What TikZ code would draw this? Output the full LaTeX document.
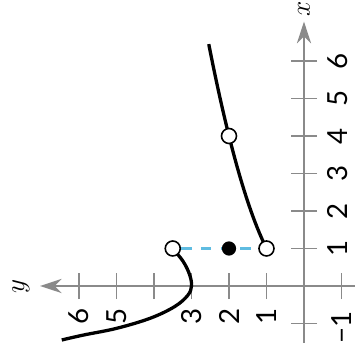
\documentclass[tikz,border=0pt]{standalone}
\usepackage{fontspec}
\setsansfont{Lato}
\usepackage{xcolor}
\usetikzlibrary{arrows.meta}
\definecolor{axisgray}{RGB}{138,138,138}
\definecolor{gapblue}{RGB}{95,188,225}

\begin{document}
\begin{tikzpicture}[rotate=90, transform shape,
    axis/.style={draw=axisgray, line width=1.3pt, -{Stealth[length=5.8mm, width=3.8mm, inset=1.9mm, fill=axisgray]}},
    tickmark/.style={draw=axisgray, line width=1.3pt},
    curve/.style={draw=black, line width=2.5pt},
    opendot/.style={circle, draw=black, line width=1.2pt, fill=white, minimum size=4mm, inner sep=0pt},
    filldot/.style={circle, fill=black, minimum size=3.8mm, inner sep=0pt},
    ticklabel/.style={font=\sffamily\fontsize{21}{24}\selectfont, inner sep=0pt},
    axislabel/.style={font=\fontsize{22}{25}\selectfont, inner sep=0pt},
    gapline/.style={draw=gapblue, line width=1.8pt, dash pattern=on 8pt off 7pt},
]

\useasboundingbox (-1.787,-1.387) rectangle (7.627,8.107);

% Axes
\coordinate (xstart) at (-1.52,0);
\coordinate (xend) at (7.05,0);
\coordinate (ystart) at (0,-1.36);
\coordinate (yend) at (0,7.04);
\draw[axis] (xstart) -- (xend);
\draw[axis] (ystart) -- (yend);
\node[axislabel] (xname) at (7.39,0) {$x$};
\node[axislabel] (yname) at (0,7.55) {$y$};

% Ticks and labels
\foreach \i in {-1,1,2,...,6} {
  \draw[tickmark] (\i,-0.35) -- (\i,0.35);
  \draw[tickmark] (-0.35,\i) -- (0.35,\i);
}
\foreach \i in {1,...,6}
  \node[ticklabel, anchor=north] (xt\i) at (\i,-0.62) {\i};
\foreach \i in {1,2,3,5,6}
  \node[ticklabel, anchor=east] (yt\i) at (-0.58,\i) {\i};
\node[ticklabel] (minusone) at (-1.1,-1.0) {−1};

% Upper branch
\draw[curve] plot[domain=1:6.45, samples=40] (\x,{sqrt(\x)});

% Lower branch
\draw[curve] plot[smooth, tension=0.6] coordinates {(1,3.5) (0.65,3.22) (0.3,3.05) (0,3.0)
  (-0.25,3.1) (-0.55,3.45) (-0.86,4.1) (-1.13,5.0) (-1.31,5.89) (-1.44,6.46)};

% Points
\node[opendot] (low) at (1,1) {};
\node[opendot] (mid) at (4,2) {};
\node[opendot] (high) at (1,3.5) {};
\draw[gapline] (high) -- (low);
\node[filldot] (val) at (1,2) {};

\end{tikzpicture}
\end{document}
